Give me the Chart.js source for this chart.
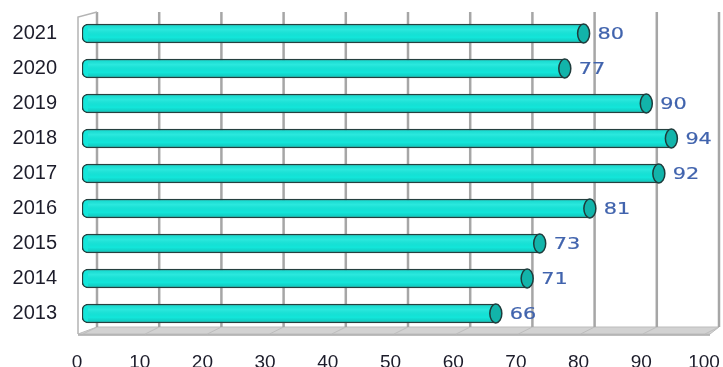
<!DOCTYPE html>
<html>
<head>
<meta charset="utf-8">
<script src="https://cdn.jsdelivr.net/npm/chart.js@4.4.1/dist/chart.umd.min.js"></script>
<style>
  html, body { margin: 0; padding: 0; background: #ffffff; }
  #wrap { width: 723px; height: 367px; }
</style>
</head>
<body>
<div id="wrap"><canvas id="c" width="723" height="367"></canvas></div>
<script>
// Yearly values, newest year at the top
const years = ['2021', '2020', '2019', '2018', '2017', '2016', '2015', '2014', '2013'];
const values = [80, 77, 90, 94, 92, 81, 73, 71, 66];
const xTicks = [0, 10, 20, 30, 40, 50, 60, 70, 80, 90, 100];

const DEPTH_X = 15;   // horizontal depth offset of the back wall
const DEPTH_Y = 4;    // vertical depth offset of the back wall

// Back wall grid, left side wall and floor drawn in a pseudo-3D style
const framePlugin = {
  id: 'frame',
  beforeDatasetsDraw(chart) {
    const { ctx, chartArea } = chart;
    const x = chart.scales.x;
    const top = chartArea.top, bottom = chartArea.bottom;
    const gx = v => x.getPixelForValue(v) + DEPTH_X - v * 0.05;
    const fx = v => x.getPixelForValue(v) - 4 - v * 0.05;
    const backY = bottom - DEPTH_Y;
    const frontY = bottom + 3;
    ctx.save();

    // floor slab
    ctx.beginPath();
    ctx.moveTo(gx(0), backY);
    ctx.lineTo(gx(100), backY);
    ctx.lineTo(fx(100) + 10, frontY);
    ctx.lineTo(fx(0), frontY);
    ctx.closePath();
    ctx.fillStyle = '#d2d2d2';
    ctx.fill();
    ctx.strokeStyle = '#bcbcbc';
    ctx.lineWidth = 1;
    ctx.stroke();
    ctx.beginPath();
    ctx.moveTo(fx(0), frontY + 1);
    ctx.lineTo(fx(100) + 10, frontY + 1);
    ctx.strokeStyle = '#a8a8a8';
    ctx.lineWidth = 1.5;
    ctx.stroke();

    // faint floor diagonals below each grid line
    ctx.strokeStyle = '#bdbdbd';
    ctx.lineWidth = 1;
    xTicks.forEach(v => {
      ctx.beginPath();
      ctx.moveTo(gx(v), backY);
      ctx.lineTo(gx(v) - 14, frontY);
      ctx.stroke();
    });

    // vertical grid lines on the back wall
    ctx.strokeStyle = '#a6a6a6';
    ctx.lineWidth = 2.5;
    xTicks.forEach(v => {
      ctx.beginPath();
      ctx.moveTo(gx(v), top - DEPTH_Y);
      ctx.lineTo(gx(v), backY);
      ctx.stroke();
    });

    // left side wall
    ctx.strokeStyle = '#b4b4b4';
    ctx.lineWidth = 1.5;
    ctx.beginPath();
    ctx.moveTo(fx(0), frontY);
    ctx.lineTo(fx(0), top + 1);
    ctx.lineTo(gx(0), top - DEPTH_Y);
    ctx.stroke();
    ctx.restore();
  },
  afterDatasetsDraw(chart) {
    const { ctx } = chart;
    const meta = chart.getDatasetMeta(0);
    ctx.save();
    meta.data.forEach((bar, i) => {
      const half = bar.height / 2;
      // bottom shading of the cylinder body
      const g = ctx.createLinearGradient(0, bar.y - half, 0, bar.y + half);
      g.addColorStop(0, 'rgba(0,60,60,0.10)');
      g.addColorStop(0.3, 'rgba(255,255,255,0.10)');
      g.addColorStop(0.7, 'rgba(0,0,0,0)');
      g.addColorStop(1, 'rgba(0,50,50,0.18)');
      ctx.fillStyle = g;
      ctx.fillRect(bar.base + 6, bar.y - half + 1, bar.x - bar.base - 6, bar.height - 2);

      // end cap of the cylinder
      ctx.beginPath();
      ctx.ellipse(bar.x, bar.y, 6, half, 0, 0, Math.PI * 2);
      ctx.fillStyle = '#12b4aa';
      ctx.fill();
      ctx.strokeStyle = '#1e3b3b';
      ctx.lineWidth = 1.5;
      ctx.stroke();

      // value label
      ctx.save();
      ctx.translate(bar.x + 14, bar.y + 1);
      ctx.scale(1.3, 1);
      ctx.font = '16px "DejaVu Sans"';
      ctx.fillStyle = '#4063ad';
      ctx.strokeStyle = '#4063ad';
      ctx.lineWidth = 0.2;
      ctx.textAlign = 'left';
      ctx.textBaseline = 'middle';
      ctx.fillText(String(values[i]), 0, 0);
      ctx.strokeText(String(values[i]), 0, 0);
      ctx.restore();
    });
    ctx.restore();
  }
};

new Chart(document.getElementById('c'), {
  type: 'bar',
  data: {
    labels: years,
    datasets: [{
      data: values,
      backgroundColor: '#13e6da',
      borderColor: '#25403f',
      borderWidth: 1.5,
      borderSkipped: false,
      borderRadius: { topLeft: 6, bottomLeft: 6, topRight: 0, bottomRight: 0 },
      barThickness: 19
    }]
  },
  options: {
    indexAxis: 'y',
    responsive: false,
    animation: false,
    events: [],
    layout: { padding: { top: 16, right: 14, left: 0, bottom: 0 } },
    plugins: { legend: { display: false }, tooltip: { enabled: false } },
    scales: {
      x: {
        min: 0,
        max: 100,
        grid: { display: false, drawTicks: false },
        border: { display: false },
        afterFit(scale) {
          scale.height = 36;
          scale.paddingLeft = 0; scale.paddingRight = 0;
          scale.paddingTop = 0; scale.paddingBottom = 0;
        },
        afterBuildTicks(scale) { scale.ticks = xTicks.map(v => ({ value: v })); },
        ticks: {
          padding: 20,
          labelOffset: -5,
          maxRotation: 0,
          color: '#1c1c2a',
          font: { family: '"Liberation Sans", Arial, sans-serif', size: 19 }
        }
      },
      y: {
        grid: { display: false, drawTicks: false },
        border: { display: false },
        afterFit(scale) {
          scale.width = 82;
          scale.paddingLeft = 0; scale.paddingRight = 0;
          scale.paddingTop = 0; scale.paddingBottom = 0;
        },
        ticks: {
          padding: 25,
          color: '#1c1c2a',
          font: { family: '"Liberation Sans", Arial, sans-serif', size: 20 }
        }
      }
    }
  },
  plugins: [framePlugin]
});
</script>
</body>
</html>
